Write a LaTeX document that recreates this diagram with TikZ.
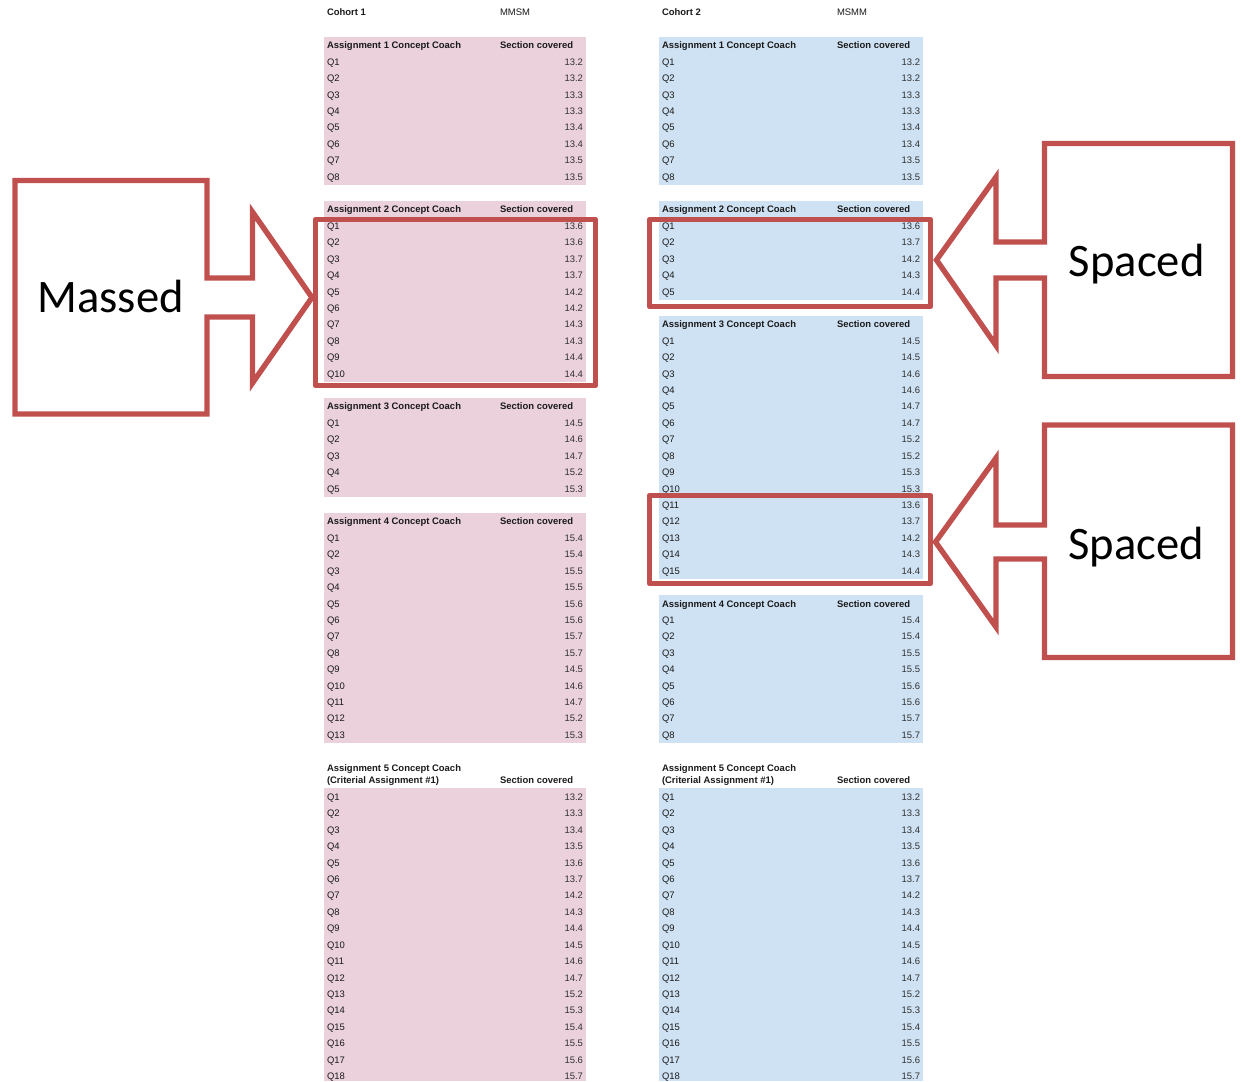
\documentclass[tikz,border=0pt]{standalone}
\usepackage{fontspec}
\setmainfont{Liberation Sans}
\newfontfamily\calib{Carlito}
\definecolor{pinkbg}{HTML}{EAD1DC}
\definecolor{bluebg}{HTML}{CFE2F3}
\definecolor{redline}{HTML}{C0504D}
\definecolor{txt}{HTML}{1A1A1A}
\definecolor{numtxt}{HTML}{303030}
\newcommand\qblock[5]{% prefix, label x, number x, first row centre y, values
  \foreach \v [count=\i] in {#5} {
    \node[lab] (#1q\i) at (#2, {#4+16.42*(\i-1)+3.4}) {Q\i};
    \node[num] (#1n\i) at (#3, {#4+16.42*(\i-1)+3.4}) {\v};
  }}
\begin{document}
\begin{tikzpicture}[x=0.5pt,y=-0.5pt,
  tbl/.style={inner sep=0pt, outer sep=0pt, font=\fontsize{4.73}{5.5}\selectfont, text=txt},
  hdr/.style={inner sep=0pt, outer sep=0pt, font=\fontsize{4.73}{5.5}\selectfont\bfseries, text=txt, anchor=base west},
  plain/.style={tbl, anchor=base west},
  lab/.style={tbl, anchor=base west},
  num/.style={tbl, anchor=base east, text=numtxt},
  big/.style={inner sep=0pt, anchor=base west, font=\calib\fontsize{23.3}{28}\selectfont, text=black},
  callout/.style={draw=redline, line width=2.7pt, line join=miter},
  hilite/.style={draw=redline, line width=2.7pt, line join=round}]
\useasboundingbox (0,0) rectangle (1241,1081);

% ---------- backgrounds ----------
\fill[pinkbg] (324,37.1) rectangle (586,185);
\fill[pinkbg] (324,201.3) rectangle (586,382);
\fill[pinkbg] (324,398.4) rectangle (586,497);
\fill[pinkbg] (324,513.3) rectangle (586,743.2);
\fill[pinkbg] (324,788) rectangle (586,1081);

\fill[bluebg] (659,37.1) rectangle (923,185);
\fill[bluebg] (659,201.3) rectangle (923,299.8);
\fill[bluebg] (659,316.3) rectangle (923,579);
\fill[bluebg] (659,595.4) rectangle (923,743.2);
\fill[bluebg] (659,788) rectangle (923,1081);

% ---------- Cohort 1 ----------
\node[hdr] (c1) at (327,15.9) {Cohort 1};
\node[plain] (c1m) at (500,15.9) {MMSM};

\node[hdr] (L1h) at (327,48.74) {Assignment 1 Concept Coach};
\node[hdr] (L1s) at (500,48.74) {Section covered};
\qblock{L1}{327}{583}{61.76}{13.2,13.2,13.3,13.3,13.4,13.4,13.5,13.5}

\node[hdr] (L2h) at (327,212.94) {Assignment 2 Concept Coach};
\node[hdr] (L2s) at (500,212.94) {Section covered};
\qblock{L2}{327}{583}{225.96}{13.6,13.6,13.7,13.7,14.2,14.2,14.3,14.3,14.4,14.4}

\node[hdr] (L3h) at (327,409.98) {Assignment 3 Concept Coach};
\node[hdr] (L3s) at (500,409.98) {Section covered};
\qblock{L3}{327}{583}{423.0}{14.5,14.6,14.7,15.2,15.3}

\node[hdr] (L4h) at (327,524.92) {Assignment 4 Concept Coach};
\node[hdr] (L4s) at (500,524.92) {Section covered};
\qblock{L4}{327}{583}{537.94}{15.4,15.4,15.5,15.5,15.6,15.6,15.7,15.7,14.5,14.6,14.7,15.2,15.3}

\node[hdr] (L5h) at (327,771.4) {Assignment 5 Concept Coach};
\node[hdr] (L5h2) at (327,783.4) {(Criterial Assignment \#1)};
\node[hdr] (L5s) at (500,783.4) {Section covered};
\qblock{L5}{327}{583}{797}{13.2,13.3,13.4,13.5,13.6,13.7,14.2,14.3,14.4,14.5,14.6,14.7,15.2,15.3,15.4,15.5,15.6,15.7}

% ---------- Cohort 2 ----------
\node[hdr] (c2) at (662,15.9) {Cohort 2};
\node[plain] (c2m) at (837,15.9) {MSMM};

\node[hdr] (R1h) at (662,48.74) {Assignment 1 Concept Coach};
\node[hdr] (R1s) at (837,48.74) {Section covered};
\qblock{R1}{662}{920}{61.76}{13.2,13.2,13.3,13.3,13.4,13.4,13.5,13.5}

\node[hdr] (R2h) at (662,212.94) {Assignment 2 Concept Coach};
\node[hdr] (R2s) at (837,212.94) {Section covered};
\qblock{R2}{662}{920}{225.96}{13.6,13.7,14.2,14.3,14.4}

\node[hdr] (R3h) at (662,327.88) {Assignment 3 Concept Coach};
\node[hdr] (R3s) at (837,327.88) {Section covered};
\qblock{R3}{662}{920}{340.9}{14.5,14.5,14.6,14.6,14.7,14.7,15.2,15.2,15.3,15.3,13.6,13.7,14.2,14.3,14.4}

\node[hdr] (R4h) at (662,607.02) {Assignment 4 Concept Coach};
\node[hdr] (R4s) at (837,607.02) {Section covered};
\qblock{R4}{662}{920}{620.04}{15.4,15.4,15.5,15.5,15.6,15.6,15.7,15.7}

\node[hdr] (R5h) at (662,771.4) {Assignment 5 Concept Coach};
\node[hdr] (R5h2) at (662,783.4) {(Criterial Assignment \#1)};
\node[hdr] (R5s) at (837,783.4) {Section covered};
\qblock{R5}{662}{920}{797}{13.2,13.3,13.4,13.5,13.6,13.7,14.2,14.3,14.4,14.5,14.6,14.7,15.2,15.3,15.4,15.5,15.6,15.7}

% ---------- highlight rectangles ----------
\draw[hilite] (315.5,219.5) rectangle (595.5,385.5);
\draw[hilite] (649.5,219.5) rectangle (930.5,306.5);
\draw[hilite] (649.5,495.5) rectangle (930.5,583.5);

% ---------- callouts ----------
\draw[callout] (15,180.5) -- (207,180.5) -- (207,278) -- (252.5,278) -- (252.5,212)
  -- (312,297.5) -- (252.5,383) -- (252.5,317) -- (207,317) -- (207,414) -- (15,414) -- cycle;
\node[big] (massed) at (37,312.5) {Massed};

\draw[callout] (1232.5,143.5) -- (1044.5,143.5) -- (1044.5,242) -- (996,242) -- (996,177)
  -- (936.5,260) -- (996,345.5) -- (996,278) -- (1044.5,278) -- (1044.5,376.5) -- (1232.5,376.5) -- cycle;
\node[big] (spaced1) at (1068.5,276.5) {Spaced};

\draw[callout] (1232.5,425) -- (1044.5,425) -- (1044.5,525) -- (996,525) -- (996,458)
  -- (935.5,542) -- (996,627) -- (996,559) -- (1044.5,559) -- (1044.5,657.5) -- (1232.5,657.5) -- cycle;
\node[big] (spaced2) at (1068,559) {Spaced};
\end{tikzpicture}
\end{document}
